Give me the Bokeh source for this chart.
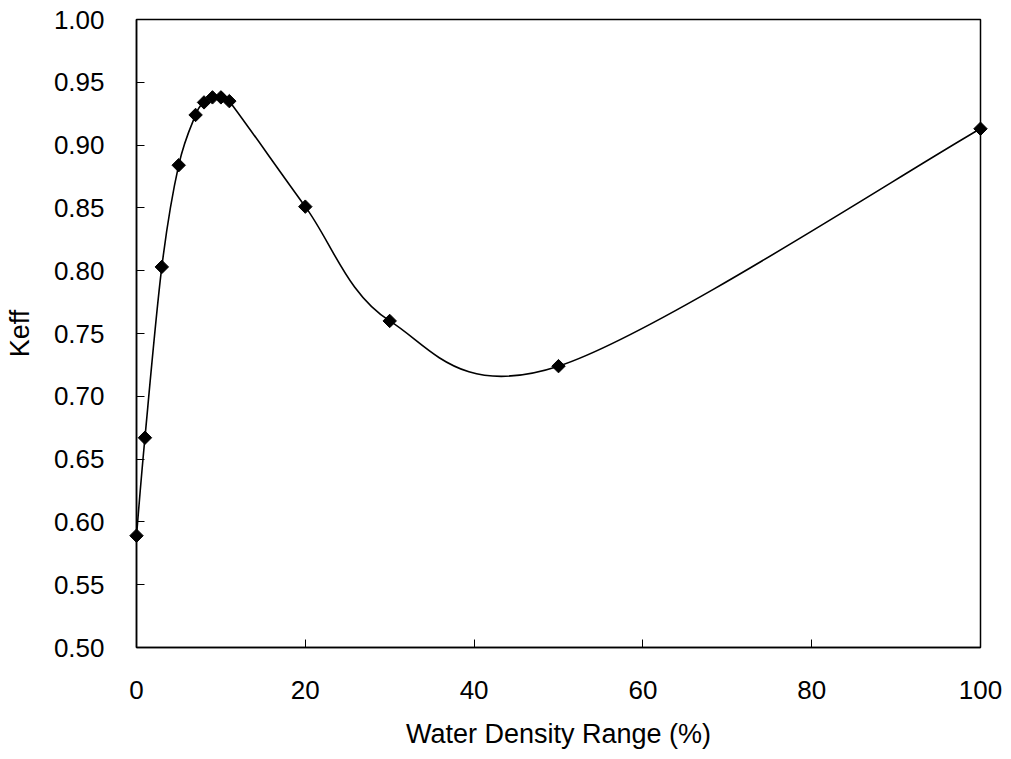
import numpy as np
from bokeh.plotting import figure
from bokeh.models import Range1d, NumeralTickFormatter, FixedTicker
from bokeh.embed import file_html
from bokeh.resources import INLINE

# Data
water_density = [0, 1, 3, 5, 7, 8, 9, 10, 11, 20, 30, 50, 100]
keff = [0.589, 0.667, 0.803, 0.884, 0.924, 0.934, 0.938, 0.938, 0.935, 0.851, 0.760, 0.724, 0.913]
x_ticks = [0, 20, 40, 60, 80, 100]
y_ticks = [0.50, 0.55, 0.60, 0.65, 0.70, 0.75, 0.80, 0.85, 0.90, 0.95, 1.00]

FONT = "Liberation Sans"
FS = "26px"
FS_TITLE = "27px"

p = figure(width=1003, height=751, output_backend="svg", toolbar_location=None,
           x_range=Range1d(0, 100), y_range=Range1d(0.5, 1.0),
           min_border_left=136, min_border_right=23, min_border_top=19, min_border_bottom=102)
p.grid.visible = False
p.outline_line_color = "black"
p.outline_line_width = 1.5
p.background_fill_color = "white"
p.border_fill_color = "white"

# smoothed line (Catmull-Rom style bezier segments, like a spreadsheet "smoothed line")
xs = np.array(water_density, dtype=float)
ys = np.array(keff, dtype=float)
n = len(xs)
x0, y0, x1, y1, cx0, cy0, cx1, cy1 = [], [], [], [], [], [], [], []
for i in range(n - 1):
    ip = max(i - 1, 0)
    inn = min(i + 2, n - 1)
    x0.append(xs[i]); y0.append(ys[i])
    x1.append(xs[i + 1]); y1.append(ys[i + 1])
    cx0.append(xs[i] + (xs[i + 1] - xs[ip]) / 6.0)
    cy0.append(ys[i] + (ys[i + 1] - ys[ip]) / 6.0)
    cx1.append(xs[i + 1] - (xs[inn] - xs[i]) / 6.0)
    cy1.append(ys[i + 1] - (ys[inn] - ys[i]) / 6.0)
p.bezier(x0=x0, y0=y0, x1=x1, y1=y1, cx0=cx0, cy0=cy0, cx1=cx1, cy1=cy1,
         line_color="black", line_width=1.6)

p.scatter(water_density, keff, marker="square", angle=np.pi / 4, size=9.5,
          fill_color="black", line_color="black", level="overlay")

for ax in (p.xaxis[0], p.yaxis[0]):
    ax.axis_line_color = "black"
    ax.axis_line_width = 1.5
    ax.major_tick_line_color = "black"
    ax.major_tick_line_width = 1
    ax.major_tick_in = 8
    ax.major_tick_out = 0
    ax.minor_tick_line_color = None
    ax.major_label_text_font = FONT
    ax.major_label_text_font_size = FS
    ax.major_label_text_color = "black"
    ax.axis_label_text_font = FONT
    ax.axis_label_text_font_size = FS_TITLE
    ax.axis_label_text_font_style = "normal"
    ax.axis_label_text_color = "black"

p.xaxis.ticker = FixedTicker(ticks=x_ticks)
p.yaxis.ticker = FixedTicker(ticks=y_ticks)
p.yaxis.formatter = NumeralTickFormatter(format="0.00")
p.xaxis.axis_label = "Water Density Range (%)"
p.yaxis.axis_label = "Keff"
p.xaxis.major_label_standoff = 33
p.yaxis.major_label_standoff = 32
p.xaxis.axis_label_standoff = 17
p.yaxis.axis_label_standoff = 16

open("out.html", "w").write(file_html(p, INLINE))
